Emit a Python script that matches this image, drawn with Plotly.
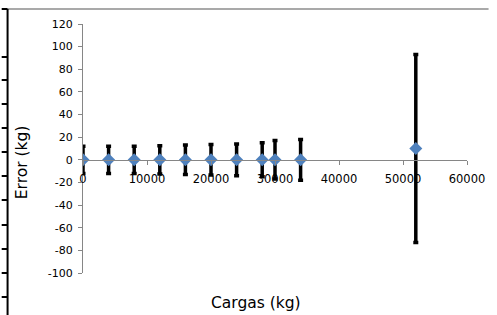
import plotly.graph_objects as go

# Data
cargas = [0, 4000, 8000, 12000, 16000, 20000, 24000, 28000, 30000, 34000, 52000]
errores = [0, 0, 0, 0, 0, 0, 0, 0, 0, 0, 10]
incertidumbre = [12, 12, 12, 12.5, 13, 13.5, 14, 15, 17, 18, 83]

x_ticks = [0, 10000, 20000, 30000, 40000, 50000, 60000]
y_ticks = [-100, -80, -60, -40, -20, 0, 20, 40, 60, 80, 100, 120]

W, H = 497, 315
L, R, T, B = 83, 22, 24, 42
pw, ph = W - L - R, H - T - B

def px_x(p):
    return (p - L) / pw

def px_y(p):
    return (H - B - p) / ph

FONT = "DejaVu Sans"
AXC = "#868686"

fig = go.Figure()
fig.add_trace(go.Scatter(
    x=cargas, y=errores, mode="markers",
    marker=dict(symbol="diamond", size=10, color="#4F81BD", line=dict(width=0)),
    error_y=dict(type="data", array=incertidumbre, visible=True,
                 color="black", thickness=3.5, width=2.5),
    showlegend=False,
))

ymin, ymax = -100, 120
zero_pos = (0 - ymin) / (ymax - ymin)

fig.update_layout(
    width=W, height=H,
    margin=dict(l=L, r=R, t=T, b=B, pad=0),
    paper_bgcolor="white", plot_bgcolor="white",
    font=dict(family=FONT, size=11, color="black"),
    xaxis=dict(range=[0, 60000], tickvals=x_ticks, ticktext=[str(v) for v in x_ticks],
               showgrid=False, zeroline=False, showline=True, linecolor=AXC, linewidth=1,
               ticks="outside", ticklen=4, tickcolor=AXC, anchor="free", position=zero_pos,
               ticklabelstandoff=4,
               tickfont=dict(family=FONT, size=11.5, color="black")),
    yaxis=dict(range=[ymin, ymax], tickvals=y_ticks, ticktext=[str(v) for v in y_ticks],
               showgrid=False, zeroline=False, showline=True, linecolor=AXC, linewidth=1,
               ticks="outside", ticklen=4, tickcolor=AXC, ticklabelstandoff=3,
               tickfont=dict(family=FONT, size=11, color="black")),
)

fig.add_annotation(text="Cargas (kg)", xref="paper", yref="paper",
                   x=px_x(260), y=px_y(303), showarrow=False,
                   font=dict(family=FONT, size=15.5, color="black"),
                   xanchor="center", yanchor="middle")
fig.add_annotation(text="Error (kg)", xref="paper", yref="paper",
                   x=px_x(21), y=px_y(162), showarrow=False, textangle=-90,
                   font=dict(family=FONT, size=15.5, color="black"),
                   xanchor="center", yanchor="middle")

# Chart-area frame fragments (neighbouring chart border, cropped)
shapes = []
shapes.append(dict(type="line", xref="paper", yref="paper",
                   x0=px_x(6), x1=px_x(W), y0=px_y(9), y1=px_y(9),
                   line=dict(color="#8c8c8c", width=1.5)))
shapes.append(dict(type="line", xref="paper", yref="paper",
                   x0=px_x(6), x1=px_x(6), y0=px_y(9), y1=px_y(H),
                   line=dict(color="black", width=2)))
for ty in [9, 57, 80, 104, 128, 152, 176, 200, 225, 249, 273, 297]:
    shapes.append(dict(type="line", xref="paper", yref="paper",
                       x0=px_x(0), x1=px_x(6), y0=px_y(ty), y1=px_y(ty),
                       line=dict(color="black", width=2)))
fig.update_layout(shapes=shapes)

fig.write_html("out.html", config={"displayModeBar": False},
               post_script="document.body.style.margin='0';document.body.style.padding='0';")
